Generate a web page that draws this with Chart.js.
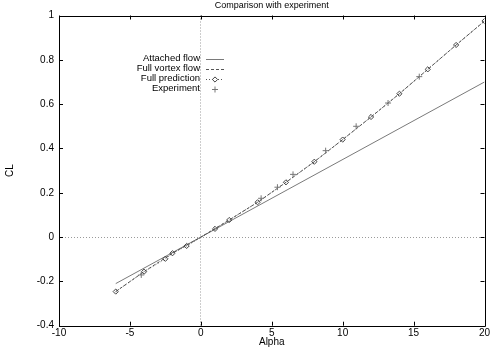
<!DOCTYPE html>
<html>
<head>
<meta charset="utf-8">
<script src="https://cdn.jsdelivr.net/npm/chart.js@4.4.1/dist/chart.umd.min.js"></script>
<style>
html,body{margin:0;padding:0;background:#fff;}
canvas{display:block;}
</style>
</head>
<body>
<canvas id="c" width="501" height="351"></canvas>
<script>
// ---- data ----
const alphaAttached = [-6, 20];
const clAttached = [-0.21, 0.70];

const alphaVortex = [-6, -4, -2, 0, 2, 4, 6, 8, 10, 12, 14, 16, 18, 20];
const clVortex = [-0.246, -0.156, -0.073, 0, 0.077, 0.157, 0.247, 0.340, 0.440, 0.542, 0.647, 0.757, 0.867, 0.975];

const alphaPrediction = [-6, -4, -2.5, -2, -1, 1, 2, 4, 6, 8, 10, 12, 14, 16, 18, 20];
const clPrediction = [-0.246, -0.156, -0.098, -0.073, -0.040, 0.037, 0.077, 0.157, 0.247, 0.340, 0.440, 0.542, 0.647, 0.757, 0.867, 0.975];

const alphaExperiment = [-4.2, 4.25, 5.4, 6.5, 8.8, 10.95, 13.2, 15.4];
const clExperiment = [-0.171, 0.175, 0.225, 0.283, 0.39, 0.50, 0.605, 0.724];

const seriesLabels = ["Attached flow", "Full vortex flow", "Full prediction", "Experiment"];
const xTickValues = [-10, -5, 0, 5, 10, 15, 20];
const yTickValues = [-0.4, -0.2, 0, 0.2, 0.4, 0.6, 0.8, 1];

const pts = (xs, ys) => xs.map((x, i) => ({x: x, y: ys[i]}));
const FONT = "'Liberation Sans', Arial, Helvetica, sans-serif";

const frameAndTicks = {
  id: 'frameAndTicks',
  afterDatasetsDraw(chart) {
    const {ctx, chartArea: a, scales: {x, y}} = chart;
    ctx.save();
    ctx.strokeStyle = '#000';
    ctx.lineWidth = 1;
    ctx.beginPath();
    ctx.rect(Math.round(a.left) + 0.5, Math.round(a.top) + 0.5, Math.round(a.right - a.left), Math.round(a.bottom - a.top));
    ctx.stroke();
    const L = 4;
    ctx.beginPath();
    xTickValues.forEach(v => {
      const px = Math.round(x.getPixelForValue(v)) + 0.5;
      ctx.moveTo(px, a.bottom); ctx.lineTo(px, a.bottom - L);
      ctx.moveTo(px, a.top); ctx.lineTo(px, a.top + L);
    });
    yTickValues.forEach(v => {
      const py = Math.round(y.getPixelForValue(v)) + 0.5;
      ctx.moveTo(a.left, py); ctx.lineTo(a.left + L, py);
      ctx.moveTo(a.right, py); ctx.lineTo(a.right - L, py);
    });
    ctx.stroke();
    ctx.restore();
  },
  afterDraw(chart) {
    // gnuplot-style key: right-aligned text, sample to its right
    const {ctx} = chart;
    ctx.save();
    ctx.font = "9.5px " + FONT;
    ctx.textAlign = 'right';
    ctx.textBaseline = 'middle';
    const textRight = 200, x0 = 206, x1 = 224, y0 = 58.5, dy = 10;
    chart.data.datasets.forEach((ds, i) => {
      const yy = y0 + dy * i;
      ctx.fillStyle = '#000';
      ctx.fillText(ds.label, textRight, yy);
      const ly = Math.round(yy) + 0.5;
      if (ds.showLine) {
        ctx.beginPath();
        ctx.strokeStyle = ds.borderColor;
        ctx.lineWidth = ds.borderWidth || 1;
        ctx.setLineDash(ds.borderDash || []);
        ctx.moveTo(x0, ly); ctx.lineTo(x1, ly);
        ctx.stroke();
        ctx.setLineDash([]);
      }
      if (ds.pointRadius > 0) {
        ctx.strokeStyle = ds.pointBorderColor || ds.borderColor;
        ctx.fillStyle = '#fff';
        ctx.lineWidth = 1;
        Chart.helpers.drawPoint(ctx, {pointStyle: ds.pointStyle, radius: ds.pointRadius, rotation: 0, borderWidth: 1}, (x0 + x1) / 2, ly);
      }
    });
    ctx.restore();
  }
};

const zeroColor = v => (Math.abs(v) < 1e-9) ? '#9a9a9a' : 'rgba(0,0,0,0)';

new Chart(document.getElementById('c'), {
  type: 'scatter',
  data: {
    datasets: [
      {
        label: seriesLabels[0],
        data: pts(alphaAttached, clAttached),
        showLine: true,
        borderColor: '#7a7a7a',
        borderWidth: 1,
        pointRadius: 0,
        order: 4
      },
      {
        label: seriesLabels[1],
        data: pts(alphaVortex, clVortex),
        showLine: true,
        borderColor: '#555',
        borderWidth: 1,
        borderDash: [3, 2],
        pointRadius: 0,
        order: 3
      },
      {
        label: seriesLabels[2],
        data: pts(alphaPrediction, clPrediction),
        showLine: true,
        borderColor: '#555',
        borderWidth: 1,
        borderDash: [1, 2],
        pointStyle: 'rectRot',
        pointRadius: 2.6,
        pointBorderColor: '#444',
        pointBackgroundColor: 'rgba(0,0,0,0)',
        pointBorderWidth: 1,
        order: 2
      },
      {
        label: seriesLabels[3],
        data: pts(alphaExperiment, clExperiment),
        showLine: false,
        borderColor: '#777',
        pointStyle: 'cross',
        pointRadius: 3,
        pointBorderColor: '#777',
        pointBorderWidth: 1,
        order: 1
      }
    ]
  },
  options: {
    responsive: false,
    animation: false,
    layout: {padding: {left: 0, right: 16.5, top: 0, bottom: 0}},
    plugins: {
      legend: {display: false},
      tooltip: {enabled: false},
      title: {
        display: true,
        text: 'Comparison with experiment',
        fullSize: false,
        color: '#000',
        font: {family: FONT, size: 9, weight: 'normal', lineHeight: 1.2},
        padding: {top: 0, bottom: 4.7}
      }
    },
    scales: {
      x: {
        type: 'linear',
        min: -10, max: 20,
        afterBuildTicks: s => { s.ticks = xTickValues.map(v => ({value: v})); },
        afterFit: s => { s.height = 25.3; },
        border: {display: false, dash: [1, 2]},
        grid: {
          drawTicks: false,
          color: c => zeroColor(c.tick ? c.tick.value : 1),
          lineWidth: 1
        },
        ticks: {
          padding: 2,
          color: '#000',
          font: {family: FONT, size: 10},
          maxRotation: 0,
          callback: v => String(v)
        },
        title: {
          display: true,
          text: 'Alpha',
          color: '#000',
          font: {family: FONT, size: 10},
          padding: {top: 0, bottom: 3}
        }
      },
      y: {
        type: 'linear',
        min: -0.4, max: 1,
        afterBuildTicks: s => { s.ticks = yTickValues.map(v => ({value: v})); },
        afterFit: s => { s.width = 59; },
        border: {display: false, dash: [1, 2]},
        grid: {
          drawTicks: false,
          color: c => zeroColor(c.tick ? c.tick.value : 1),
          lineWidth: 1
        },
        ticks: {
          padding: 5,
          color: '#000',
          font: {family: FONT, size: 10},
          callback: v => String(Math.round(v * 10) / 10)
        },
        title: {
          display: true,
          text: 'CL',
          color: '#000',
          font: {family: FONT, size: 10},
          padding: {top: 4, bottom: 0}
        }
      }
    }
  },
  plugins: [frameAndTicks]
});
</script>
</body>
</html>
